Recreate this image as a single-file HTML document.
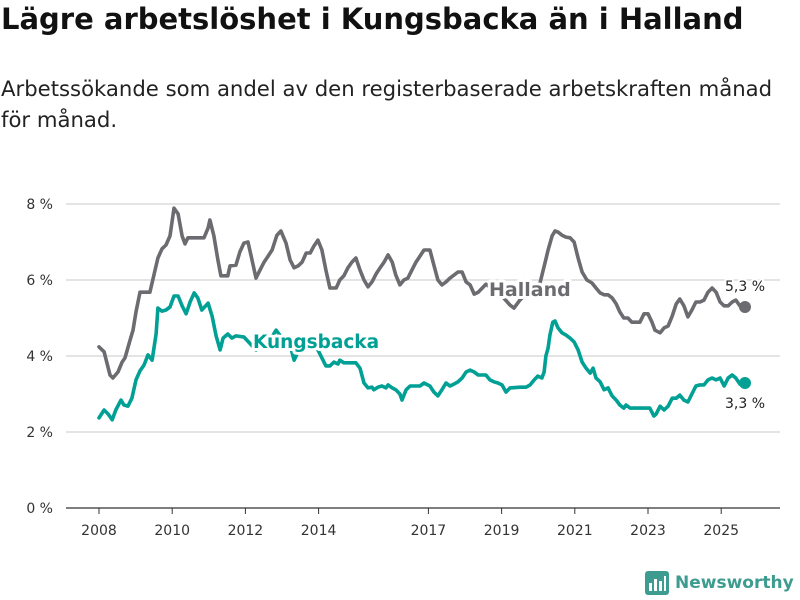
<!DOCTYPE html>
<html><head><meta charset="utf-8"><style>
body{margin:0;width:800px;height:600px;background:#fff;overflow:hidden;font-family:"DejaVu Sans","Liberation Sans",sans-serif;}
h1{position:absolute;left:1px;top:2px;margin:0;font-size:29px;font-weight:bold;color:#111;letter-spacing:0px;white-space:nowrap}
p.sub{position:absolute;left:1px;top:73px;margin:0;font-size:21.2px;line-height:31px;color:#222;width:795px;white-space:nowrap}
svg{position:absolute;left:0;top:0}
</style></head><body>
<h1>Lägre arbetslöshet i Kungsbacka än i Halland</h1>
<p class="sub">Arbetssökande som andel av den registerbaserade arbetskraften månad<br>för månad.</p>
<svg id="chart" width="800" height="600"></svg>
<script>
const hallandDates=[2008.00,2008.14,2008.30,2008.38,2008.52,2008.63,2008.71,2008.85,2008.93,2009.01,2009.12,2009.39,2009.50,2009.61,2009.72,2009.83,2009.94,2010.05,2010.16,2010.27,2010.35,2010.43,2010.87,2010.98,2011.03,2011.14,2011.25,2011.33,2011.52,2011.58,2011.74,2011.85,2011.96,2012.07,2012.18,2012.29,2012.40,2012.51,2012.62,2012.73,2012.86,2012.97,2013.11,2013.22,2013.33,2013.44,2013.55,2013.66,2013.77,2013.87,2013.98,2014.09,2014.20,2014.31,2014.48,2014.58,2014.69,2014.80,2014.91,2015.02,2015.13,2015.24,2015.35,2015.46,2015.57,2015.68,2015.79,2015.90,2016.01,2016.11,2016.22,2016.33,2016.44,2016.55,2016.66,2016.77,2016.88,2017.04,2017.15,2017.26,2017.37,2017.48,2017.59,2017.70,2017.81,2017.92,2018.03,2018.14,2018.25,2018.36,2018.57,2018.79,2019.01,2019.23,2019.34,2019.50,2019.78,2020.05,2020.19,2020.27,2020.38,2020.46,2020.54,2020.65,2020.76,2020.87,2020.98,2021.09,2021.20,2021.33,2021.47,2021.58,2021.69,2021.80,2021.91,2022.02,2022.13,2022.23,2022.34,2022.45,2022.56,2022.78,2022.89,2023.00,2023.11,2023.19,2023.33,2023.44,2023.55,2023.66,2023.77,2023.87,2023.98,2024.09,2024.20,2024.31,2024.42,2024.53,2024.64,2024.75,2024.86,2024.97,2025.08,2025.19,2025.30,2025.40,2025.51,2025.65];
const hallandValues=[4.24,4.11,3.50,3.42,3.58,3.84,3.95,4.42,4.68,5.16,5.68,5.68,6.13,6.58,6.82,6.92,7.16,7.89,7.74,7.16,6.95,7.11,7.11,7.37,7.58,7.16,6.53,6.11,6.11,6.37,6.39,6.74,6.97,7.00,6.53,6.05,6.26,6.47,6.63,6.79,7.18,7.29,6.97,6.53,6.32,6.37,6.47,6.71,6.71,6.89,7.05,6.79,6.26,5.79,5.79,6.00,6.11,6.32,6.47,6.58,6.26,6.00,5.82,5.95,6.16,6.32,6.47,6.66,6.47,6.13,5.87,6.00,6.05,6.26,6.47,6.63,6.79,6.79,6.39,6.00,5.87,5.95,6.05,6.13,6.21,6.21,5.95,5.87,5.63,5.68,5.89,5.74,5.58,5.34,5.26,5.47,5.74,5.92,6.47,6.79,7.16,7.29,7.26,7.18,7.13,7.11,7.00,6.58,6.21,6.00,5.92,5.79,5.66,5.61,5.61,5.53,5.37,5.16,5.00,5.00,4.89,4.89,5.11,5.11,4.89,4.68,4.61,4.74,4.79,5.05,5.37,5.50,5.32,5.03,5.21,5.42,5.42,5.47,5.68,5.79,5.68,5.42,5.32,5.32,5.42,5.47,5.32,5.29];
const kbaDates=[2008.00,2008.14,2008.25,2008.36,2008.46,2008.60,2008.68,2008.79,2008.90,2009.01,2009.12,2009.23,2009.34,2009.45,2009.56,2009.61,2009.72,2009.83,2009.94,2010.05,2010.16,2010.27,2010.38,2010.49,2010.60,2010.70,2010.81,2010.98,2011.09,2011.20,2011.31,2011.39,2011.52,2011.63,2011.74,2011.96,2012.29,2012.45,2012.62,2012.84,2013.00,2013.22,2013.33,2013.49,2013.77,2013.98,2014.09,2014.20,2014.31,2014.42,2014.53,2014.58,2014.69,2015.02,2015.13,2015.24,2015.35,2015.46,2015.51,2015.62,2015.73,2015.84,2015.90,2016.01,2016.11,2016.22,2016.28,2016.39,2016.50,2016.77,2016.88,2017.04,2017.15,2017.26,2017.37,2017.48,2017.59,2017.70,2017.81,2017.92,2018.03,2018.14,2018.25,2018.36,2018.57,2018.68,2018.79,2018.90,2019.01,2019.12,2019.23,2019.50,2019.67,2019.78,2019.89,2019.99,2020.10,2020.16,2020.21,2020.27,2020.32,2020.40,2020.46,2020.54,2020.65,2020.76,2020.87,2020.98,2021.09,2021.20,2021.31,2021.42,2021.50,2021.58,2021.69,2021.80,2021.91,2022.02,2022.13,2022.23,2022.34,2022.40,2022.51,2023.05,2023.16,2023.22,2023.33,2023.44,2023.55,2023.66,2023.77,2023.87,2023.98,2024.09,2024.20,2024.31,2024.42,2024.53,2024.64,2024.75,2024.86,2024.97,2025.08,2025.19,2025.30,2025.40,2025.51,2025.65];
const kbaValues=[2.37,2.58,2.47,2.32,2.58,2.84,2.71,2.68,2.89,3.37,3.61,3.76,4.03,3.89,4.58,5.26,5.18,5.21,5.29,5.58,5.58,5.32,5.11,5.42,5.66,5.53,5.21,5.39,5.05,4.53,4.16,4.47,4.58,4.47,4.53,4.50,4.16,4.37,4.34,4.68,4.47,4.29,3.89,4.21,4.26,4.16,3.95,3.74,3.74,3.84,3.79,3.89,3.82,3.82,3.68,3.29,3.16,3.18,3.11,3.18,3.21,3.16,3.24,3.16,3.11,3.00,2.84,3.11,3.21,3.21,3.29,3.21,3.05,2.95,3.11,3.29,3.21,3.26,3.32,3.42,3.58,3.63,3.58,3.50,3.50,3.37,3.32,3.29,3.24,3.05,3.16,3.18,3.18,3.24,3.37,3.47,3.42,3.58,4.00,4.21,4.55,4.89,4.92,4.74,4.61,4.55,4.47,4.37,4.16,3.84,3.68,3.55,3.68,3.42,3.32,3.11,3.16,2.95,2.84,2.71,2.63,2.71,2.63,2.63,2.42,2.47,2.68,2.58,2.68,2.89,2.89,2.97,2.84,2.79,3.00,3.21,3.24,3.24,3.37,3.42,3.37,3.42,3.21,3.42,3.50,3.42,3.26,3.29];
const yTicks=[0,2,4,6,8];
const yTickLabels=["0 %","2 %","4 %","6 %","8 %"];
const xTicks=[2008,2010,2012,2014,2017,2019,2021,2023,2025];
const xTickLabels=["2008","2010","2012","2014","2017","2019","2021","2023","2025"];

const NS="http://www.w3.org/2000/svg";
const svg=document.getElementById('chart');
const X=t=>99+(t-2008)*36.6;
const Y=v=>508-v*38;
const FONT='DejaVu Sans, Liberation Sans, sans-serif';
function mk(tag,attrs,parent){const e=document.createElementNS(NS,tag);for(const k in attrs)e.setAttribute(k,attrs[k]);(parent||svg).appendChild(e);return e;}
const TEAL="#00a095",GRAY="#6b6b70";
yTicks.forEach((v,i)=>{
  const g=mk('line',{x1:66,x2:780,y1:Y(v),y2:Y(v),stroke:v===0?'#333':'#dcdcdc','stroke-width':v===0?1.2:1.5});
  
  
  const t=mk('text',{x:53,y:Y(v)+5,'text-anchor':'end','font-size':14,fill:'#333','font-family':FONT});
  t.textContent=yTickLabels[i];
  
  
});
xTicks.forEach((v,i)=>{
  const l=mk('line',{x1:X(v),x2:X(v),y1:508,y2:514,stroke:'#333','stroke-width':1});
  
  
  const t=mk('text',{x:X(v),y:535,'text-anchor':'middle','font-size':14,fill:'#333','font-family':FONT});
  t.textContent=xTickLabels[i];
  
  
});
function line(d,v,c,name){
  const p=mk('path',{d:d.map((t,i)=>(i?'L':'M')+X(t).toFixed(1)+','+Y(v[i]).toFixed(1)).join(''),fill:'none',stroke:c,'stroke-width':3.6,'stroke-linejoin':'round','stroke-linecap':'round'});
  
  
  const n=d.length-1;
  const dot=mk('circle',{cx:X(d[n]),cy:Y(v[n]),r:6,fill:c});
  
  
}
line(hallandDates,hallandValues,GRAY,'halland-line');
line(kbaDates,kbaValues,TEAL,'kungsbacka-line');
function label(txt,x,y,c,name,size,bold,anchor){
  const t=mk('text',{x:x,y:y,fill:c,'font-size':size,'font-weight':bold?'bold':'normal','text-anchor':anchor||'start','font-family':FONT,stroke:'#fff','stroke-width':bold?6:4,'paint-order':'stroke','stroke-linejoin':'round'});
  t.textContent=txt;
  
  
}
label('Halland',489,296,GRAY,'halland-label',19,true);
label('Kungsbacka',253,348,TEAL,'kungsbacka-label',18.5,true);
const hl=hallandValues[hallandValues.length-1], kl=kbaValues[kbaValues.length-1];
label(hl.toFixed(1).replace('.',',')+' %',745,291,'#222','halland-last-value',14,false,'middle');
label(kl.toFixed(1).replace('.',',')+' %',745,408,'#222','kungsbacka-last-value',14,false,'middle');
</script>
<div style="position:absolute;left:645px;top:570px;height:26px;display:flex;align-items:center">
  <svg width="24" height="24" style="position:static"><rect x="0" y="0" width="24" height="24" rx="3" fill="#3d9c8f"/><rect x="4" y="12" width="3" height="8" fill="#fff"/><rect x="9" y="8" width="3" height="12" fill="#fff"/><rect x="14" y="10" width="3" height="10" fill="#fff"/><rect x="19" y="5" width="2" height="15" fill="#fff"/></svg>
  <span style="margin-left:6px;font-size:17px;font-weight:bold;color:#3d9c8f">Newsworthy</span>
</div>
</body></html>
